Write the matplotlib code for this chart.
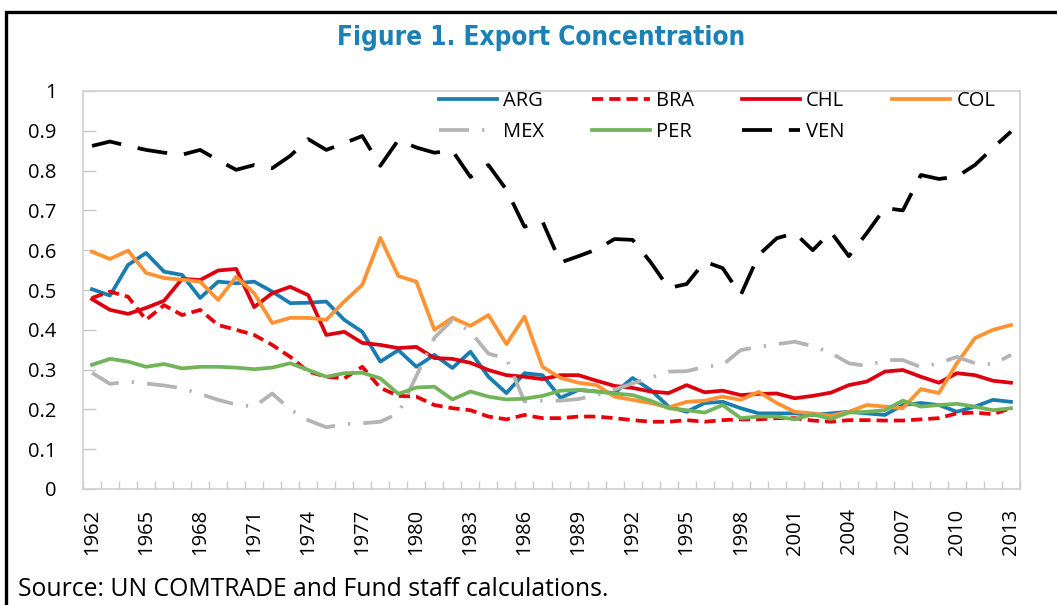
import numpy as np
import matplotlib
matplotlib.use("Agg")
import matplotlib.pyplot as plt
from matplotlib.patches import Rectangle

# Export concentration by country, 1962-2013
years = list(range(1962, 2014))

arg = [0.502, 0.486, 0.563, 0.593, 0.546, 0.538, 0.480, 0.521, 0.517, 0.521,
       0.496, 0.467, 0.468, 0.471, 0.425, 0.395, 0.320, 0.349, 0.307, 0.337,
       0.304, 0.345, 0.282, 0.241, 0.291, 0.286, 0.229, 0.249, 0.245, 0.241,
       0.279, 0.249, 0.207, 0.194, 0.216, 0.219, 0.203, 0.190, 0.190, 0.190,
       0.186, 0.190, 0.194, 0.190, 0.186, 0.211, 0.216, 0.211, 0.194, 0.207,
       0.224, 0.219]
bra = [0.480, 0.496, 0.483, 0.425, 0.462, 0.437, 0.450, 0.412, 0.400, 0.387,
       0.362, 0.332, 0.295, 0.282, 0.278, 0.307, 0.254, 0.234, 0.232, 0.211,
       0.203, 0.198, 0.182, 0.175, 0.186, 0.178, 0.178, 0.182, 0.182, 0.178,
       0.173, 0.169, 0.169, 0.173, 0.169, 0.173, 0.175, 0.175, 0.178, 0.178,
       0.172, 0.169, 0.173, 0.173, 0.172, 0.172, 0.175, 0.178, 0.190, 0.192,
       0.188, 0.203]
chl = [0.477, 0.450, 0.440, 0.455, 0.473, 0.528, 0.525, 0.549, 0.553, 0.457,
       0.492, 0.508, 0.487, 0.387, 0.395, 0.367, 0.362, 0.354, 0.357, 0.329,
       0.327, 0.317, 0.299, 0.286, 0.282, 0.276, 0.286, 0.286, 0.272, 0.259,
       0.254, 0.245, 0.241, 0.261, 0.243, 0.247, 0.236, 0.239, 0.240, 0.228,
       0.234, 0.242, 0.261, 0.270, 0.295, 0.299, 0.282, 0.267, 0.291, 0.286,
       0.272, 0.267]
col = [0.596, 0.578, 0.599, 0.543, 0.530, 0.526, 0.521, 0.475, 0.533, 0.492,
       0.417, 0.430, 0.430, 0.425, 0.471, 0.513, 0.631, 0.535, 0.521, 0.400,
       0.430, 0.410, 0.437, 0.364, 0.433, 0.307, 0.279, 0.267, 0.261, 0.232,
       0.224, 0.216, 0.205, 0.219, 0.222, 0.232, 0.224, 0.244, 0.216, 0.194,
       0.190, 0.184, 0.194, 0.211, 0.207, 0.203, 0.251, 0.241, 0.316, 0.379,
       0.400, 0.412]
mex = [0.292, 0.264, 0.270, 0.265, 0.260, 0.253, 0.239, 0.224, 0.212, 0.207,
       0.240, 0.200, 0.173, 0.155, 0.163, 0.165, 0.169, 0.190, 0.284, 0.380,
       0.425, 0.395, 0.340, 0.328, 0.220, 0.222, 0.222, 0.226, 0.236, 0.250,
       0.265, 0.280, 0.295, 0.296, 0.307, 0.312, 0.349, 0.357, 0.364, 0.370,
       0.359, 0.342, 0.316, 0.309, 0.324, 0.324, 0.306, 0.316, 0.332, 0.316,
       0.313, 0.337]
per = [0.312, 0.327, 0.320, 0.307, 0.314, 0.303, 0.307, 0.307, 0.305, 0.301,
       0.305, 0.316, 0.299, 0.282, 0.291, 0.292, 0.278, 0.239, 0.255, 0.257,
       0.225, 0.245, 0.232, 0.225, 0.227, 0.234, 0.247, 0.249, 0.245, 0.240,
       0.236, 0.222, 0.203, 0.198, 0.192, 0.211, 0.178, 0.182, 0.182, 0.175,
       0.188, 0.176, 0.192, 0.194, 0.198, 0.222, 0.207, 0.211, 0.214, 0.207,
       0.198, 0.203]
ven = [0.862, 0.873, 0.862, 0.852, 0.845, 0.840, 0.852, 0.826, 0.802, 0.814,
       0.806, 0.837, 0.879, 0.852, 0.869, 0.887, 0.812, 0.877, 0.858, 0.845,
       0.850, 0.784, 0.814, 0.752, 0.659, 0.672, 0.569, 0.585, 0.602, 0.628,
       0.626, 0.570, 0.505, 0.515, 0.571, 0.555, 0.487, 0.588, 0.630, 0.643,
       0.600, 0.646, 0.585, 0.643, 0.706, 0.700, 0.789, 0.779, 0.785, 0.814,
       0.857, 0.898]

plt.rcParams['font.family'] = ['Open Sans', 'DejaVu Sans']

fig = plt.figure(figsize=(10.57, 6.05), dpi=100)
ax = fig.add_axes([83/1057, 1 - 489/605, (1020 - 83)/1057, (489 - 91)/605])

x = np.arange(len(years))
lw = 2.7
l_arg, = ax.plot(x, arg, color='#1a7db0', lw=lw, label='ARG')
l_bra, = ax.plot(x, bra, color='#e8000b', lw=lw, dashes=(3, 1.6), label='BRA')
l_chl, = ax.plot(x, chl, color='#dc0010', lw=lw, label='CHL')
l_col, = ax.plot(x, col, color='#ff9232', lw=lw, label='COL')
l_mex, = ax.plot(x, mex, color='#b4b4b4', lw=lw, dashes=(8, 3.5, 0.6, 3.5), label='MEX')
l_per, = ax.plot(x, per, color='#72b45a', lw=lw, label='PER')
l_ven, = ax.plot(x, ven, color='black', lw=lw, dashes=(8, 4.5), label='VEN')

ax.set_xlim(-0.5, len(years) - 0.5)
ax.set_ylim(0, 1)

# category axis: labels every 3 years, tick marks between categories
ax.set_xticks(x[::3])
ax.set_xticklabels([str(y) for y in years[::3]], rotation=90)
ax.set_xticks(np.arange(-0.5, len(years)), minor=True)
ax.tick_params(axis='x', which='major', length=0, pad=14, labelsize=14.5)
ax.tick_params(axis='x', which='minor', direction='in', length=6,
               color='#c8c8c8', width=1)

ax.set_yticks(np.arange(0, 1.01, 0.1))
ax.set_yticklabels(['0'] + ['%.1f' % v for v in np.arange(0.1, 0.95, 0.1)] + ['1'])
ax.tick_params(axis='y', direction='in', length=9, color='#c8c8c8', width=1,
               pad=19, labelsize=14.5)

for s in ax.spines.values():
    s.set_color('#d0d0d0')
    s.set_linewidth(1.2)

# legend fills by column, so order handles to read row by row
handles = [l_arg, l_mex, l_bra, l_per, l_chl, l_ven, l_col]
ax.legend(handles=handles, labels=[h.get_label() for h in handles],
          ncol=4, frameon=False, fontsize=14.5, loc='upper left',
          bbox_to_anchor=(439/1057, 1 - 91/605), bbox_transform=fig.transFigure,
          borderpad=0, borderaxespad=0, handlelength=2.9, handletextpad=0.3,
          columnspacing=2.35, labelspacing=0.55)

fig.text(541/1057, 1 - 38/605, 'Figure 1. Export Concentration',
         ha='center', va='center', fontsize=18.7, fontweight='bold',
         fontstretch='condensed', color='#1a80b5', family='DejaVu Sans')
fig.text(18/1057, 1 - 590/605, 'Source: UN COMTRADE and Fund staff calculations.',
         ha='left', va='center', fontsize=17.8)

# black frame around the figure (left and top visible)
fig.patches.append(Rectangle((6/1057, -0.05), 1.1, 1 - 12/605 + 0.05,
                             transform=fig.transFigure, fill=False,
                             edgecolor='black', linewidth=2.4))

fig.savefig('out.png', dpi=100)
